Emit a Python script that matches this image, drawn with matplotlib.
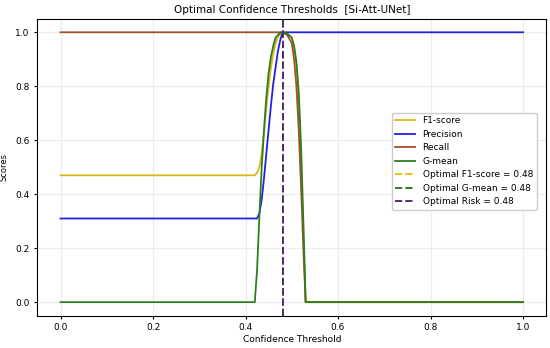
import matplotlib
matplotlib.use("Agg")
import matplotlib.pyplot as plt

# threshold sample points and score values
thresholds = [0.0, 0.42, 0.425, 0.43, 0.435, 0.44, 0.445, 0.45, 0.455, 0.46,
              0.465, 0.47, 0.475, 0.48, 0.49, 0.50, 0.505, 0.51, 0.515,
              0.52, 0.525, 0.53, 1.0]
f1_score = [0.47, 0.47, 0.48, 0.50, 0.55, 0.63, 0.72, 0.80, 0.87, 0.92,
            0.96, 0.98, 0.995, 1.0, 0.995, 0.98, 0.94, 0.88, 0.74,
            0.52, 0.25, 0.0, 0.0]
precision = [0.31, 0.31, 0.31, 0.33, 0.38, 0.46, 0.55, 0.64, 0.73, 0.81,
             0.87, 0.93, 0.97, 1.0, 1.0, 1.0, 1.0, 1.0, 1.0,
             1.0, 1.0, 1.0, 1.0]
recall = [1.0, 1.0, 1.0, 1.0, 1.0, 1.0, 1.0, 1.0, 1.0, 1.0,
          1.0, 1.0, 1.0, 1.0, 0.99, 0.96, 0.90, 0.80, 0.64,
          0.43, 0.20, 0.0, 0.0]
g_mean = [0.0, 0.0, 0.12, 0.32, 0.50, 0.64, 0.76, 0.85, 0.91, 0.95,
          0.98, 0.99, 0.998, 1.0, 0.995, 0.98, 0.95, 0.89, 0.78,
          0.58, 0.30, 0.0, 0.0]
opt_f1 = 0.48
opt_gmean = 0.48
opt_risk = 0.48

fig = plt.figure(figsize=(5.5, 3.48), dpi=100)
ax = fig.add_axes([0.068, 0.093, 0.925, 0.853])

ax.plot(thresholds, f1_score, color="#d9b81a", lw=1.3, label="F1-score")
ax.plot(thresholds, precision, color="#2222dd", lw=1.3, label="Precision")
ax.plot(thresholds, recall, color="#a0522d", lw=1.3, label="Recall")
ax.plot(thresholds, g_mean, color="#2e7d1e", lw=1.3, label="G-mean")

ax.axvline(opt_f1, color="#e8c020", ls="--", lw=1.4,
           label=f"Optimal F1-score = {opt_f1:.2f}")
ax.axvline(opt_gmean, color="#2e7d1e", ls="--", lw=1.4,
           label=f"Optimal G-mean = {opt_gmean:.2f}")
ax.axvline(opt_risk, color="#5a2a70", ls="--", lw=1.4,
           label=f"Optimal Risk = {opt_risk:.2f}")

ax.set_title("Optimal Confidence Thresholds  [Si-Att-UNet]", fontsize=7.5, pad=4)
ax.set_xlabel("Confidence Threshold", fontsize=6.5, labelpad=2)
ax.set_ylabel("Scores", fontsize=6, labelpad=5)
ax.tick_params(labelsize=6.5, length=2.5, pad=3)
ax.grid(True, color="#ececec", lw=0.8)
ax.set_axisbelow(True)

ax.legend(loc="center right", bbox_to_anchor=(0.99, 0.52), fontsize=6.5,
          handlelength=2.2, labelspacing=0.5, framealpha=1)

fig.savefig("out.png", dpi=100)
